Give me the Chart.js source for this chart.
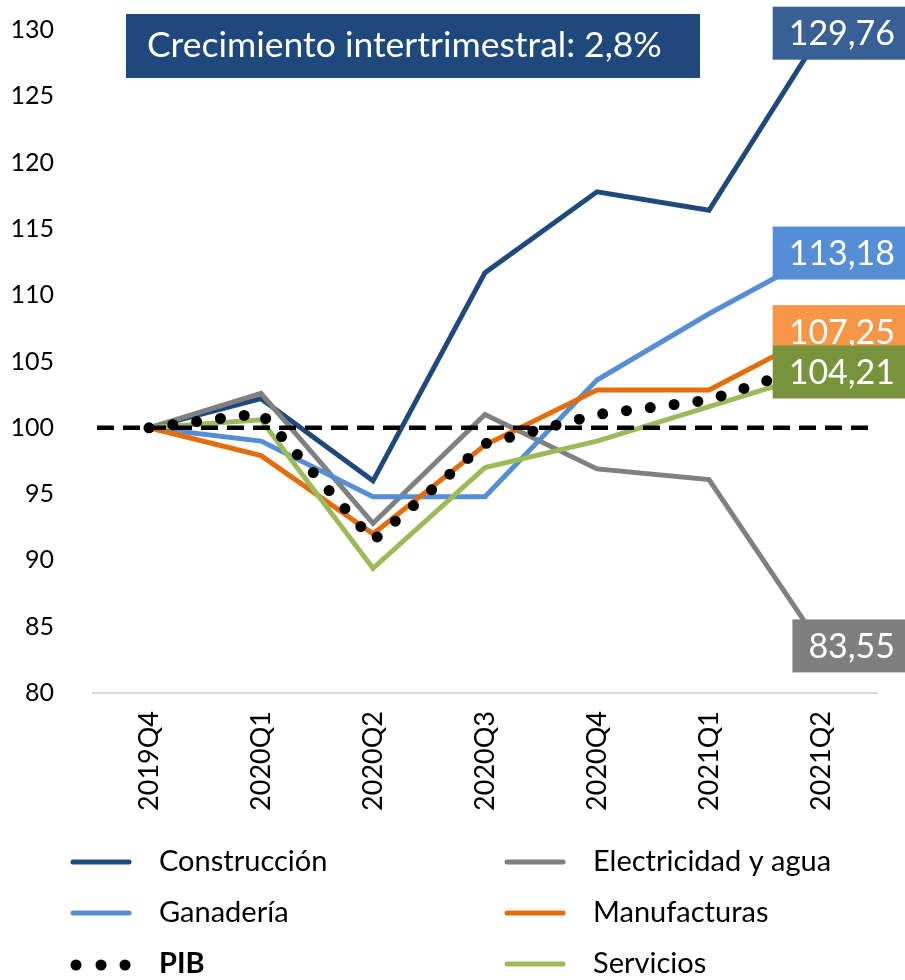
<!DOCTYPE html>
<html><head><meta charset="utf-8">
<script src="https://cdn.jsdelivr.net/npm/chart.js@4.4.0/dist/chart.umd.min.js"></script>
<style>html,body{margin:0;padding:0;background:#fff}</style>
</head><body>
<canvas id="c" width="905" height="980"></canvas>
<script>
const categories = ['2019Q4','2020Q1','2020Q2','2020Q3','2020Q4','2021Q1','2021Q2'];
const construccion = [100, 102.2, 96.0, 111.7, 117.8, 116.4, 129.76];
const electricidad = [100, 102.6, 92.8, 101.0, 96.9, 96.1, 83.55];
const ganaderia    = [100, 99.0, 94.8, 94.8, 103.6, 108.6, 113.18];
const manufacturas = [100, 97.9, 92.0, 98.7, 102.85, 102.85, 107.25];
const pib          = [100, 101.1, 91.5, 98.8, 101.0, 102.1, 104.9];
const servicios    = [100, 100.6, 89.4, 97.0, 99.0, 101.6, 104.21];
const yTicks = [80, 85, 90, 95, 100, 105, 110, 115, 120, 125, 130];
const referenceLevel = 100;
const titleText = 'Crecimiento intertrimestral: 2,8%';

const FONT = 'Lato, "Open Sans", sans-serif';

const seriesDefs = [
  {label:'Construcción', data:construccion, color:'#1F497D', box:'#386095', showLabel:true},
  {label:'Electricidad y agua', data:electricidad, color:'#808080', box:'#7F7F7F', showLabel:true},
  {label:'Ganadería', data:ganaderia, color:'#558ED5', box:'#558ED5', showLabel:true},
  {label:'Manufacturas', data:manufacturas, color:'#E46C0A', box:'#F79646', showLabel:true},
  {label:'PIB', data:pib, color:'#000000', box:null, showLabel:false, dotted:true},
  {label:'Servicios', data:servicios, color:'#9BBB59', box:'#77933C', showLabel:true}
];

const datasets = seriesDefs.map((s, i) => ({
  label: s.label,
  data: s.data,
  borderColor: s.color,
  backgroundColor: s.color,
  borderWidth: s.dotted ? 11 : 5,
  borderDash: s.dotted ? [0, 24] : [],
  borderCapStyle: s.dotted ? 'round' : 'butt',
  borderJoinStyle: 'miter',
  pointRadius: 0,
  tension: 0,
  fill: false,
  order: s.dotted ? 0 : (10 - i),
  _box: s.box,
  _showLabel: s.showLabel,
  _dotted: !!s.dotted
}));

const refLinePlugin = {
  id: 'refLine',
  afterDatasetsDraw(chart) {
    const {ctx, chartArea, scales} = chart;
    const y = scales.y.getPixelForValue(referenceLevel);
    ctx.save();
    ctx.strokeStyle = '#000';
    ctx.lineWidth = 4.5;
    ctx.setLineDash([17, 9]);
    ctx.beginPath();
    ctx.moveTo(chartArea.left + 4, y);
    ctx.lineTo(chartArea.right - 6, y);
    ctx.stroke();
    ctx.restore();
  }
};

const labelsPlugin = {
  id: 'endLabels',
  afterDraw(chart) {
    const {ctx} = chart;
    ctx.save();
    ctx.font = '34px ' + FONT;
    ctx.textBaseline = 'middle';
    chart.data.datasets.forEach((ds, i) => {
      if (!ds._showLabel) return;
      const meta = chart.getDatasetMeta(i);
      const pt = meta.data[meta.data.length - 1];
      const v = ds.data[ds.data.length - 1];
      const txt = String(v).replace('.', ',');
      const w = ctx.measureText(txt).width;
      const right = chart.width;
      const boxW = w + 26;
      const h = 53;
      ctx.fillStyle = ds._box;
      ctx.fillRect(right - boxW, pt.y - h / 2, boxW, h);
      ctx.fillStyle = '#fff';
      ctx.textAlign = 'right';
      ctx.fillText(txt, right - 10, pt.y + 1);
    });
    // title box
    ctx.font = '35.5px ' + FONT;
    ctx.fillStyle = '#1F497D';
    ctx.fillRect(126, 14, 574, 64);
    ctx.fillStyle = '#fff';
    ctx.textAlign = 'left';
    ctx.fillText(titleText, 147, 46);
    ctx.restore();
  }
};

const legendPlugin = {
  id: 'customLegend',
  afterDraw(chart) {
    const {ctx} = chart;
    const items = chart.data.datasets;
    const rowY = [862, 913, 964];
    const colX = [73, 507];
    ctx.save();
    ctx.textBaseline = 'middle';
    ctx.textAlign = 'left';
    items.forEach((ds, i) => {
      const col = i % 2, row = Math.floor(i / 2);
      const x = colX[col], y = rowY[row];
      if (ds._dotted) {
        ctx.fillStyle = '#000';
        [76, 101, 125].forEach(dx => {
          ctx.beginPath();
          ctx.arc(dx - 73 + x, y + 1, 5.5, 0, Math.PI * 2);
          ctx.fill();
        });
        ctx.font = 'bold 29px ' + FONT;
      } else {
        ctx.strokeStyle = ds.borderColor;
        ctx.lineWidth = 5;
        ctx.lineCap = 'round';
        ctx.beginPath();
        ctx.moveTo(x, y);
        ctx.lineTo(x + 56, y);
        ctx.stroke();
        ctx.font = '29px ' + FONT;
      }
      ctx.fillStyle = '#000';
      ctx.fillText(ds.label, x + 86, y);
    });
    ctx.restore();
  }
};

new Chart(document.getElementById('c'), {
  type: 'line',
  data: { labels: categories, datasets },
  options: {
    responsive: false,
    animation: false,
    devicePixelRatio: 1,
    layout: { padding: { top: 30, left: 0, right: 28, bottom: 0 } },
    plugins: { legend: { display: false }, tooltip: { enabled: false } },
    scales: {
      x: {
        type: 'category',
        offset: true,
        grid: { display: false },
        border: { display: true, color: '#D9D9D9', width: 2 },
        ticks: {
          color: '#000',
          font: { family: FONT, size: 27 },
          minRotation: 90,
          maxRotation: 90,
          padding: 10,
          autoSkip: false
        },
        afterFit(scale) { scale.height = 980 - 693; scale.paddingTop = 0; scale.paddingBottom = 0; }
      },
      y: {
        min: 80,
        max: 130,
        afterBuildTicks(scale) { scale.ticks = yTicks.map(v => ({ value: v })); },
        grid: { display: false },
        border: { display: false },
        ticks: {
          color: '#000',
          font: { family: FONT, size: 25 },
          padding: 31
        },
        afterFit(scale) { scale.width = 93; scale.paddingTop = 0; scale.paddingBottom = 0; }
      }
    }
  },
  plugins: [refLinePlugin, labelsPlugin, legendPlugin]
});
</script>
</body></html>
